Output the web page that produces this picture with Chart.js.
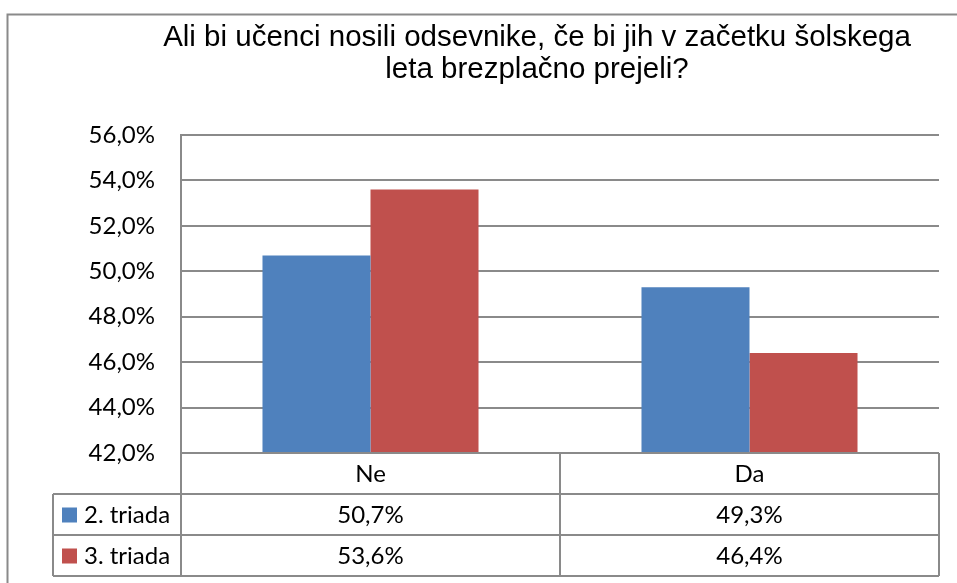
<!DOCTYPE html>
<html>
<head>
<meta charset="utf-8">
<title>Odsevniki</title>
<script src="https://cdn.jsdelivr.net/npm/chart.js@4"></script>
<style>
  body { margin: 0; background: #fff; }
  #wrap { width: 957px; height: 583px; }
</style>
</head>
<body>
<div id="wrap"><canvas id="chart" width="957" height="583"></canvas></div>
<script>
// data
const categories = ['Ne', 'Da'];
const seriesNames = ['2. triada', '3. triada'];
const triada2 = [50.7, 49.3];
const triada3 = [53.6, 46.4];
const seriesColors = ['#4F81BD', '#C0504D'];
const titleLines = ['Ali bi učenci nosili odsevnike, če bi jih v začetku šolskega', 'leta brezplačno prejeli?'];

const lineGray = '#8a8a8a';
const cellFont = '24px Lato';

function pct(v) {
  return v.toFixed(1).replace('.', ',') + '%';
}

// title, outer frame and the data table under the plot
const tablePlugin = {
  id: 'dataTable',
  afterDraw(chart) {
    const ctx = chart.ctx;
    const area = chart.chartArea;
    const n = categories.length;
    const colW = (area.right - area.left) / n;
    const rowH = 41;
    const top = area.bottom;
    const legendLeft = 53;

    ctx.save();
    // title (sits off-centre in the original, so drawn here)
    ctx.fillStyle = '#000';
    ctx.font = '29.5px "Liberation Sans", Arial, sans-serif';
    ctx.textAlign = 'center';
    ctx.textBaseline = 'alphabetic';
    titleLines.forEach((t, i) => ctx.fillText(t, 537, 46 + i * 32));

    // outer frame
    ctx.strokeStyle = lineGray;
    ctx.lineWidth = 2;
    ctx.beginPath();
    ctx.moveTo(7.5, 583);
    ctx.lineTo(7.5, 14.5);
    ctx.lineTo(957, 14.5);
    ctx.stroke();

    // table lines
    ctx.beginPath();
    ctx.moveTo(area.left, top);
    ctx.lineTo(area.right, top);
    for (let r = 1; r <= 3; r++) {
      ctx.moveTo(legendLeft, top + r * rowH);
      ctx.lineTo(area.right, top + r * rowH);
    }
    ctx.moveTo(legendLeft, top + rowH);
    ctx.lineTo(legendLeft, top + 3 * rowH);
    for (let c = 0; c <= n; c++) {
      const x = Math.round(area.left + c * colW);
      ctx.moveTo(x, top);
      ctx.lineTo(x, top + 3 * rowH);
    }
    ctx.stroke();

    // cell texts
    ctx.fillStyle = '#000';
    ctx.font = cellFont;
    ctx.textBaseline = 'middle';
    ctx.textAlign = 'center';
    const xs = chart.scales.x;
    categories.forEach((cat, i) => {
      const cx = xs.getPixelForValue(i);
      ctx.fillText(cat, cx, top + rowH / 2 + 1);
      chart.data.datasets.forEach((ds, d) => {
        ctx.fillText(pct(ds.data[i]), cx, top + rowH * (d + 1) + rowH / 2 + 1);
      });
    });

    // legend keys in the first column
    ctx.textAlign = 'left';
    chart.data.datasets.forEach((ds, d) => {
      const cy = top + rowH * (d + 1) + rowH / 2;
      ctx.fillStyle = ds.backgroundColor;
      ctx.fillRect(62, cy - 7, 15, 15);
      ctx.fillStyle = '#000';
      ctx.fillText(ds.label, 84, cy + 1);
    });
    ctx.restore();
  }
};

const ctx = document.getElementById('chart').getContext('2d');
new Chart(ctx, {
  type: 'bar',
  data: {
    labels: categories,
    datasets: [
      { label: seriesNames[0], data: triada2, backgroundColor: seriesColors[0] },
      { label: seriesNames[1], data: triada3, backgroundColor: seriesColors[1] }
    ]
  },
  options: {
    responsive: false,
    animation: false,
    layout: { padding: { left: 57, right: 18, top: 135, bottom: 130 } },
    datasets: {
      bar: { categoryPercentage: 0.57, barPercentage: 1.0 }
    },
    scales: {
      x: { display: false },
      y: {
        min: 42,
        max: 56,
        afterFit(scale) { scale.width = 124; },
        ticks: {
          stepSize: 2,
          padding: 26,
          color: '#000',
          font: { family: 'Lato', size: 24 },
          callback: (v) => pct(v)
        },
        grid: { color: lineGray, lineWidth: 2, drawTicks: false },
        border: { color: lineGray, width: 2 }
      }
    },
    plugins: {
      legend: { display: false },
      tooltip: { enabled: false },
      title: { display: false }
    }
  },
  plugins: [tablePlugin]
});
</script>
</body>
</html>
